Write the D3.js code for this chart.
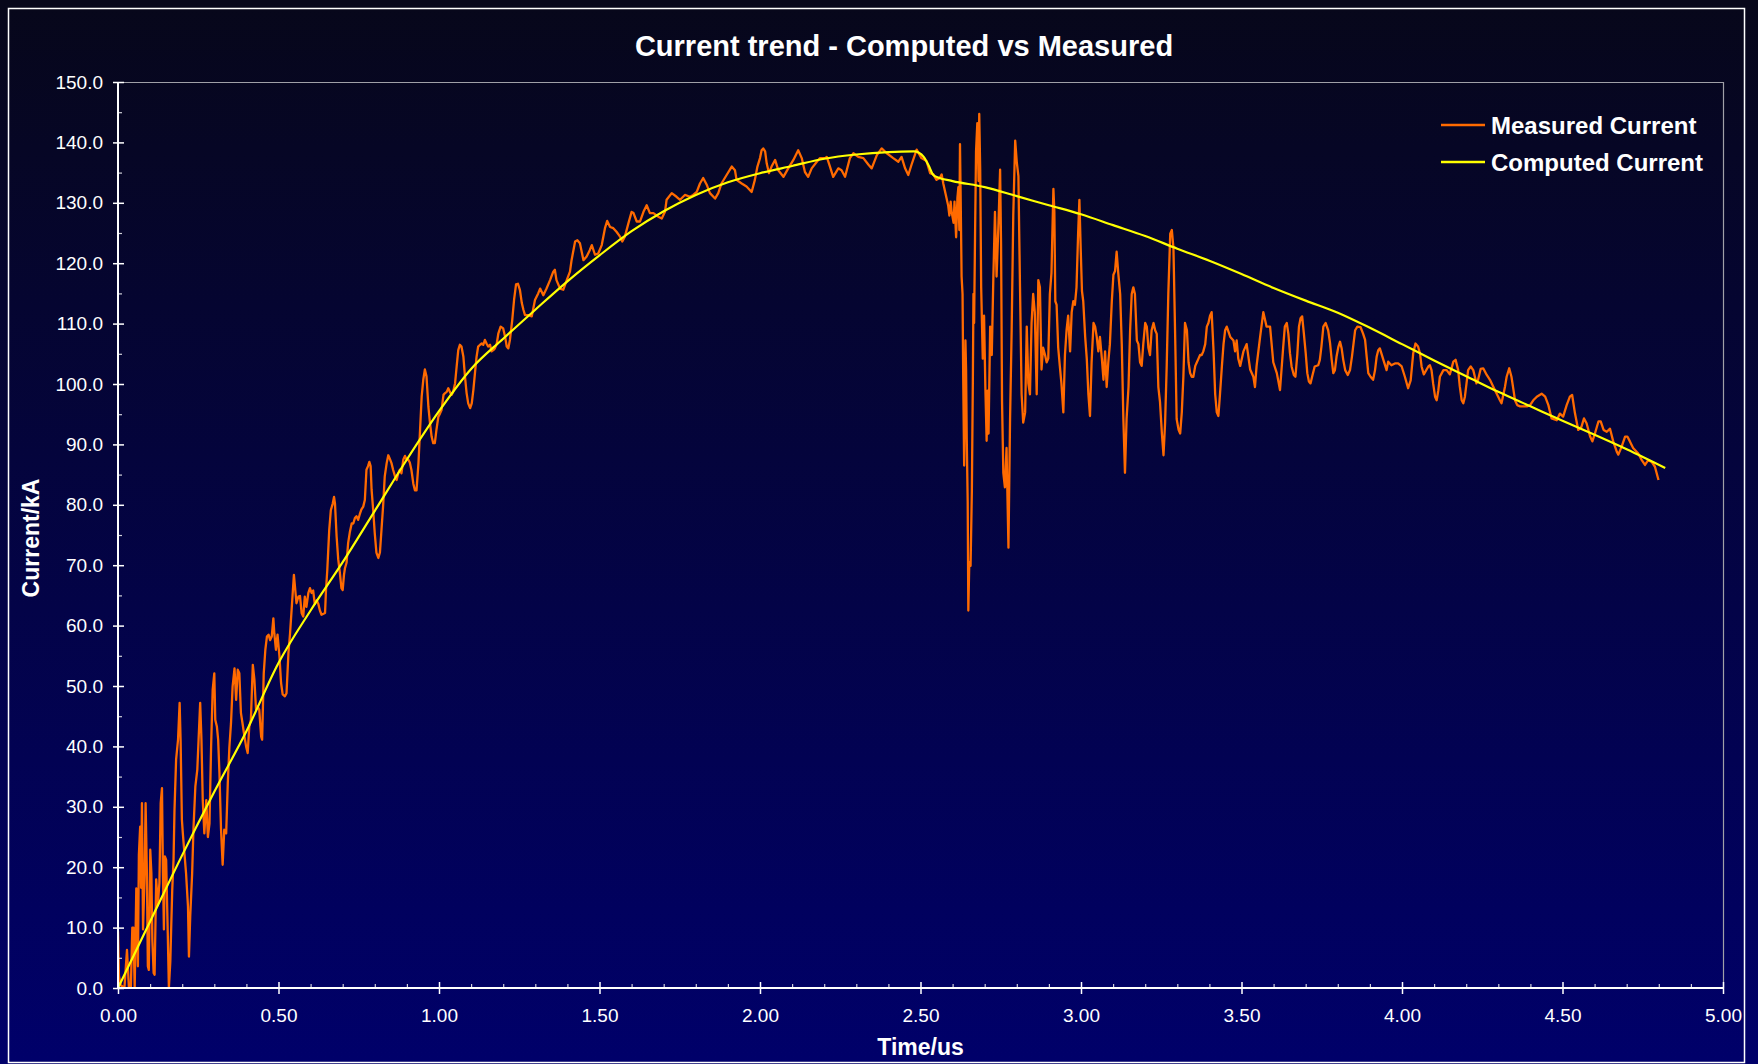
<!DOCTYPE html>
<html>
<head>
<meta charset="utf-8">
<title>Current trend - Computed vs Measured</title>
<script src="https://cdn.jsdelivr.net/npm/d3@7"></script>
<style>
  body { margin: 0; background: #05051a; overflow: hidden; }
  text { font-family: "Liberation Sans", Arial, sans-serif; fill: #ffffff; }
</style>
</head>
<body>
<div id="chart"></div>
<script>
// measured current, [time us, current kA]
var measuredPoints = [
  [0,9.4],[0.003,2],[0.008,0.5],[0.02,0],[0.028,6.3],[0.034,0],[0.040,0],[0.0446,10],[0.048,10],[0.052,0],
  [0.057,16.5],[0.062,3.6],[0.065,22],[0.069,26.7],[0.072,16.6],[0.0746,30.6],[0.078,9.7],[0.083,19],[0.086,30.6],[0.090,19],
  [0.093,3.6],[0.096,3],[0.1005,22.9],[0.104,19],[0.107,8],[0.111,2.5],[0.114,2.2],[0.119,18],[0.124,13.7],[0.129,17.4],
  [0.133,30.6],[0.137,33.1],[0.140,19],[0.143,9.7],[0.146,21.8],[0.150,21.2],[0.155,9.1],[0.1585,0],[0.163,4.4],[0.166,10.5],
  [0.169,16.3],[0.173,21.2],[0.176,29.5],[0.181,37.8],[0.187,41.1],[0.192,47.2],[0.195,41.1],[0.199,27.9],[0.202,25.6],[0.207,22.3],
  [0.212,19],[0.218,13.5],[0.221,5.2],[0.225,11.8],[0.231,19],[0.235,26.2],[0.241,33.4],[0.247,36.1],[0.251,41.1],[0.256,47.2],
  [0.260,41.1],[0.264,31.1],[0.269,25.6],[0.275,31.1],[0.280,25],[0.285,27.2],[0.290,39.9],[0.295,49.4],[0.300,52.1],[0.303,44.4],
  [0.308,43.3],[0.312,41.1],[0.316,35.6],[0.321,26.2],[0.326,20.4],[0.331,26.2],[0.337,25.6],[0.342,33.9],[0.347,39.9],[0.352,43.8],
  [0.357,49.9],[0.363,52.9],[0.368,47.7],[0.373,52.7],[0.378,52.1],[0.383,45.5],[0.388,43.8],[0.394,41.6],[0.399,40],[0.404,38.9],
  [0.409,43.3],[0.414,44.4],[0.420,53.5],[0.425,51],[0.430,46.1],[0.435,46.6],[0.440,46.1],[0.446,41.6],[0.449,41.1],[0.454,52.1],
  [0.459,56],[0.464,58.2],[0.469,58.5],[0.474,57.6],[0.479,58.2],[0.484,61.2],[0.487,58.7],[0.492,56],[0.497,58.5],[0.503,54.9],
  [0.508,50.5],[0.513,48.6],[0.520,48.3],[0.525,48.8],[0.531,55.5],[0.536,58.7],[0.548,68.4],[0.556,63.7],[0.562,64.8],[0.567,64.9],
  [0.572,62.1],[0.577,61.5],[0.582,64.8],[0.587,63.1],[0.593,65.4],[0.598,66.2],[0.603,65.4],[0.608,65.8],[0.613,63.6],[0.619,64.2],
  [0.624,63.6],[0.629,62.5],[0.634,61.8],[0.645,62.1],[0.648,65.9],[0.652,69.2],[0.658,75.8],[0.663,79.1],[0.669,80.2],[0.673,81.3],
  [0.676,80.2],[0.681,74.8],[0.686,71],[0.691,68.8],[0.696,66.2],[0.700,65.9],[0.704,68.4],[0.707,69.5],[0.712,70.4],[0.717,73.7],
  [0.722,75.4],[0.728,76.9],[0.733,76.9],[0.738,77.8],[0.743,78.1],[0.748,77.5],[0.753,78.4],[0.758,79.2],[0.764,79.7],[0.769,80.8],
  [0.774,85.8],[0.779,86.4],[0.783,87.1],[0.787,86.4],[0.790,82.5],[0.795,79.1],[0.800,75.2],[0.805,72.1],[0.811,71.2],[0.816,72.1],
  [0.821,76],[0.826,79.9],[0.831,84.7],[0.837,86.9],[0.842,88.2],[0.847,87.6],[0.852,86.9],[0.857,85.8],[0.863,84.7],[0.868,84.1],
  [0.873,85.2],[0.878,85.8],[0.883,85.2],[0.889,87.5],[0.894,88.1],[0.899,87.5],[0.904,87.5],[0.909,87],[0.914,85.8],[0.920,83.5],
  [0.925,82.4],[0.930,82.4],[0.936,86.9],[0.941,92.4],[0.946,97.9],[0.951,100.7],[0.956,102.4],[0.961,101.3],[0.967,96.2],[0.972,93.5],
  [0.977,91.3],[0.982,90.2],[0.987,90.2],[0.992,92.4],[0.998,94.6],[1.003,95.1],[1.008,95.7],[1.014,98.2],[1.019,98.5],[1.024,98.7],
  [1.029,99.3],[1.034,98.7],[1.039,98.2],[1.044,98.7],[1.050,100.1],[1.055,102.9],[1.060,105.6],[1.065,106.5],[1.070,106.2],[1.076,104.5],
  [1.081,101.2],[1.086,98.5],[1.091,96.8],[1.097,96],[1.102,96.8],[1.107,99],[1.112,101.8],[1.117,104.5],[1.122,106.2],[1.128,106.5],
  [1.133,106.7],[1.138,106.5],[1.143,107.3],[1.148,106.7],[1.153,106.2],[1.159,106.5],[1.164,105.4],[1.169,105.6],[1.174,105.9],[1.180,106.7],
  [1.185,108.4],[1.192,109.5],[1.200,109.2],[1.206,107.8],[1.211,106.2],[1.216,105.9],[1.221,107.3],[1.228,110.5],[1.234,114],[1.240,116.5],
  [1.246,116.6],[1.252,115.6],[1.258,113.4],[1.263,112.3],[1.268,111.4],[1.278,111.4],[1.289,111.2],[1.299,113.9],[1.309,115],[1.315,115.8],
  [1.325,114.7],[1.335,115.8],[1.346,117.2],[1.356,118.6],[1.361,118.9],[1.366,117.2],[1.377,115.8],[1.387,115.6],[1.398,117.2],[1.408,118.6],
  [1.413,120.5],[1.424,123.6],[1.431,123.8],[1.439,123.3],[1.450,120.5],[1.460,121.1],[1.470,122.2],[1.476,123],[1.486,121.4],[1.496,121.6],
  [1.507,123],[1.517,125.8],[1.524,127],[1.533,126],[1.543,125.8],[1.553,125.2],[1.564,124.4],[1.571,123.6],[1.579,124.4],[1.590,126.6],
  [1.600,128.5],[1.606,128.3],[1.616,126.9],[1.626,126.9],[1.637,128.5],[1.647,129.6],[1.657,128.3],[1.668,128.3],[1.683,127.7],[1.694,127.4],
  [1.704,128.5],[1.709,130.5],[1.725,131.6],[1.740,131],[1.751,130.5],[1.766,131.3],[1.782,131],[1.792,131.3],[1.803,131.8],[1.813,133.2],
  [1.823,134.1],[1.834,133],[1.844,131.6],[1.860,130.7],[1.870,131.6],[1.880,133.2],[1.896,134.6],[1.912,136],[1.922,135.4],[1.927,133.8],
  [1.943,133.2],[1.958,132.7],[1.974,131.8],[1.984,133.8],[1.992,136],[2.000,137.4],[2.005,138.7],[2.010,139],[2.016,138.5],[2.021,136.5],
  [2.028,134.9],[2.036,136],[2.047,137.1],[2.057,135.4],[2.073,134.3],[2.088,135.7],[2.104,137.1],[2.119,138.7],[2.130,137.4],[2.140,135.1],
  [2.150,134.3],[2.161,135.7],[2.177,136.8],[2.187,137.4],[2.203,137.4],[2.208,137.6],[2.218,136],[2.228,134.3],[2.244,135.7],[2.254,135.4],
  [2.265,134.3],[2.280,137.4],[2.291,138.2],[2.306,137.6],[2.322,137.4],[2.338,136.3],[2.348,135.7],[2.364,137.9],[2.379,139],[2.395,138.2],
  [2.415,137.4],[2.431,136.8],[2.441,137.6],[2.452,135.7],[2.462,134.6],[2.472,136.3],[2.488,138.8],[2.503,137.4],[2.519,136.9],[2.530,134.9],
  [2.540,134.7],[2.550,133.8],[2.560,134.1],[2.566,134.7],[2.571,133.2],[2.576,132],[2.581,130.8],[2.586,129.6],[2.590,127.9],[2.594,130.2],
  [2.597,128.5],[2.603,126.7],[2.606,130.2],[2.611,124.3],[2.615,130.8],[2.618,132.6],[2.621,125.5],[2.623,139.7],[2.625,131.4],[2.628,117.8],
  [2.631,114.9],[2.633,101.3],[2.636,86.5],[2.640,107.2],[2.642,102.4],[2.644,91.2],[2.647,80.6],[2.649,62.5],[2.652,70.5],[2.656,69.9],
  [2.660,82.3],[2.663,100.1],[2.665,114.9],[2.667,110.1],[2.670,124.9],[2.673,138.5],[2.677,143.2],[2.681,133.6],[2.683,144.7],[2.686,135.5],
  [2.689,116],[2.694,104.2],[2.698,111.3],[2.702,99.5],[2.706,90.6],[2.709,98.9],[2.712,91.8],[2.717,109.5],[2.722,104.8],[2.727,117.8],
  [2.732,128.5],[2.737,117.8],[2.743,126.7],[2.748,135.5],[2.751,123.1],[2.754,97.1],[2.758,85.3],[2.763,82.9],[2.768,89.4],[2.774,72.9],
  [2.779,94.2],[2.784,108.9],[2.789,127.9],[2.795,140.3],[2.800,136.7],[2.805,134.4],[2.810,116],[2.815,98.3],[2.820,93.6],[2.826,95.3],
  [2.831,109.5],[2.836,100.1],[2.841,98.3],[2.846,110.1],[2.851,114.9],[2.856,111.9],[2.862,98.3],[2.867,117.2],[2.872,116],[2.877,102.4],
  [2.882,106],[2.888,104.8],[2.893,103.6],[2.898,104.2],[2.903,114.9],[2.908,118.4],[2.914,132.3],[2.917,128.5],[2.920,113.7],[2.924,113.1],
  [2.929,106],[2.934,103],[2.939,100.1],[2.945,95.3],[2.950,104.8],[2.955,108.9],[2.960,111.3],[2.966,105.4],[2.971,111.9],[2.976,113.7],
  [2.981,113.1],[2.986,116],[2.991,124.9],[2.995,130.5],[2.999,122.5],[3.003,115.4],[3.007,113.7],[3.013,107.8],[3.018,104.2],[3.023,98.3],
  [3.028,94.7],[3.033,103.6],[3.039,110.1],[3.044,109.5],[3.049,107.8],[3.054,105.4],[3.059,107.8],[3.065,104.2],[3.070,100.7],[3.075,105.4],
  [3.080,99.5],[3.085,103.6],[3.090,106.6],[3.096,113.7],[3.101,118.1],[3.106,118.7],[3.111,121.9],[3.116,118.4],[3.122,114.9],[3.127,106.6],
  [3.132,94.2],[3.137,85.3],[3.142,94.2],[3.148,99.5],[3.153,108.9],[3.158,114.9],[3.163,116],[3.168,114.9],[3.174,107.2],[3.179,106.6],
  [3.184,103.6],[3.189,103],[3.194,106.6],[3.200,110.1],[3.205,109.5],[3.210,106],[3.215,104.8],[3.220,108.9],[3.226,110.1],[3.231,108.9],
  [3.236,108.3],[3.241,99.5],[3.246,97.1],[3.252,91.8],[3.257,88.2],[3.262,93.6],[3.267,103],[3.272,114.9],[3.278,124.9],[3.283,125.5],
  [3.288,122.5],[3.293,108.9],[3.298,94.2],[3.304,92.4],[3.309,91.8],[3.314,95.3],[3.319,101.3],[3.324,110.1],[3.330,108.9],[3.335,103.6],
  [3.340,101.8],[3.345,101.2],[3.350,101.2],[3.356,103],[3.361,103.6],[3.366,104.2],[3.371,104.8],[3.376,104.8],[3.381,105.4],[3.387,106.6],
  [3.392,109.5],[3.397,110.1],[3.402,111.3],[3.407,111.9],[3.413,105.4],[3.418,98.3],[3.423,95.3],[3.428,94.7],[3.433,98.3],[3.439,103],
  [3.444,106.6],[3.449,108.9],[3.454,109.5],[3.465,107.8],[3.475,107.2],[3.480,105.4],[3.485,107.2],[3.490,104.2],[3.496,103],[3.506,105.4],
  [3.516,106.6],[3.527,102.4],[3.537,101.2],[3.542,99.5],[3.547,103],[3.558,107.8],[3.568,111.9],[3.578,109.5],[3.589,109.5],[3.599,103.6],
  [3.610,101.8],[3.620,99],[3.630,106.2],[3.635,109.5],[3.641,110.1],[3.646,108.3],[3.651,105.1],[3.656,102.9],[3.663,101.5],[3.668,101.2],
  [3.674,105],[3.679,109.5],[3.684,110.9],[3.689,111.2],[3.694,108.5],[3.700,105.1],[3.705,101.8],[3.710,100.4],[3.715,100.1],[3.720,101.2],
  [3.728,102.9],[3.739,103.1],[3.744,104],[3.749,106.2],[3.755,109.5],[3.762,110.1],[3.770,108.9],[3.776,106.7],[3.781,104],[3.786,101.8],
  [3.791,102.3],[3.796,104.5],[3.802,106.2],[3.807,107],[3.812,105.9],[3.817,104],[3.823,102.3],[3.831,101.5],[3.838,102.3],[3.844,104.5],
  [3.849,106.7],[3.854,108.9],[3.861,109.5],[3.871,109.4],[3.879,108.3],[3.885,107.3],[3.890,104.5],[3.895,101.8],[3.902,101.2],[3.910,100.7],
  [3.916,102.3],[3.921,104.5],[3.926,105.6],[3.931,105.9],[3.942,104],[3.952,102.3],[3.957,103.7],[3.967,103.1],[3.978,103.4],[3.988,103.4],
  [3.999,102.9],[4.009,101.2],[4.019,99.3],[4.027,100.6],[4.035,105.1],[4.042,106.7],[4.050,106.2],[4.056,105.1],[4.061,102.9],[4.068,101.6],
  [4.082,102.9],[4.087,103.1],[4.092,102.3],[4.097,100.1],[4.103,97.9],[4.108,97.3],[4.113,98.9],[4.118,101.2],[4.129,102.3],[4.139,102.3],
  [4.149,101.6],[4.160,103.7],[4.167,104],[4.175,102.3],[4.180,99.6],[4.186,97.3],[4.191,96.8],[4.196,97.9],[4.201,100.1],[4.206,102.3],
  [4.214,102.9],[4.222,102.3],[4.227,101.2],[4.232,100.1],[4.237,100.7],[4.245,102.5],[4.253,102.6],[4.264,101.5],[4.274,100.7],[4.284,99.6],
  [4.295,98.4],[4.305,97.3],[4.310,96.8],[4.316,98.3],[4.321,99.6],[4.326,101.2],[4.334,102.6],[4.341,101.2],[4.347,99.1],[4.352,97.3],
  [4.359,96.5],[4.368,96.3],[4.378,96.3],[4.389,96.3],[4.399,96.5],[4.409,97.3],[4.420,97.9],[4.435,98.4],[4.446,97.9],[4.456,96.5],
  [4.466,94.3],[4.482,94],[4.492,95.1],[4.502,94.6],[4.513,96.5],[4.523,97.9],[4.530,98.2],[4.539,95.1],[4.549,92.4],[4.559,92.9],
  [4.567,94.3],[4.575,93.5],[4.586,91.3],[4.593,90.5],[4.601,91.8],[4.612,93.8],[4.619,93.8],[4.628,92.4],[4.638,92.1],[4.648,92.6],
  [4.658,90.5],[4.669,88.8],[4.674,88.3],[4.684,89.6],[4.695,91.3],[4.702,91.3],[4.710,90.5],[4.720,89.4],[4.736,88.5],[4.747,87.4],
  [4.757,86.6],[4.767,87.4],[4.778,87.1],[4.788,86.3],[4.799,84.1]
];

// computed current, [time us, current kA]
var computedPoints = [
  [0,0],[0.1,11],[0.2,22],[0.3,32.5],[0.4,42.5],[0.5,53.8],[0.6,62.5],[0.7,70.5],[0.8,79],[0.9,87.5],
  [1.0,95.5],[1.1,102.5],[1.2,107.5],[1.3,112.3],[1.4,117],[1.5,121.3],[1.6,125.3],[1.7,128.6],[1.8,131.3],[1.9,133.4],
  [2.0,134.9],[2.1,136.1],[2.2,137.3],[2.3,138],[2.4,138.4],[2.48,138.5],[2.495,138.3],[2.51,137.6],[2.525,136.2],[2.54,134.6],
  [2.555,134.2],[2.6,133.6],[2.7,132.6],[2.8,131.1],[2.9,129.6],[3.0,128.1],[3.1,126.3],[3.2,124.5],[3.3,122.4],[3.4,120.4],
  [3.5,118.2],[3.6,115.9],[3.7,113.8],[3.8,111.8],[3.9,109.3],[4.0,106.6],[4.1,103.9],[4.2,101.3],[4.3,98.7],[4.4,96.3],
  [4.5,93.9],[4.6,91.6],[4.7,89.2],[4.82,86.1]
];

var yMajorTicks = d3.range(0, 151, 10);
var yMinorTicks = d3.range(5, 150, 10);
var xMajorTicks = [0, 0.5, 1, 1.5, 2, 2.5, 3, 3.5, 4, 4.5, 5];
var xMinorTicks = d3.range(1, 50).map(function (i) { return i / 10; }).filter(function (d) { return Math.round(d * 10) % 5 !== 0; });
var legendLabels = ['Measured Current', 'Computed Current'];
var seriesColors = ['#ff6a00', '#ffff00'];

var W = 1758, H = 1064;
var margin = { top: 82, right: 35, bottom: 76, left: 118 };
var width = W - margin.left - margin.right;
var height = H - margin.top - margin.bottom;

var svg = d3.select('#chart').append('svg')
    .attr('width', W)
    .attr('height', H);

var defs = svg.append('defs');
var grad = defs.append('linearGradient')
    .attr('id', 'bg')
    .attr('x1', 0).attr('y1', 0).attr('x2', 0).attr('y2', 1);
grad.append('stop').attr('offset', '0%').attr('stop-color', '#07071a');
grad.append('stop').attr('offset', '100%').attr('stop-color', '#00006a');

defs.append('clipPath').attr('id', 'plot-clip')
    .append('rect')
    .attr('width', width)
    .attr('height', height + 2)
    .attr('y', -1);

svg.append('rect')
    .attr('width', W)
    .attr('height', H)
    .attr('fill', 'url(#bg)');

// chart area border
svg.append('rect')
    .attr('x', 8.5).attr('y', 8.5)
    .attr('width', 1736).attr('height', 1054)
    .attr('fill', 'none')
    .attr('stroke', '#ffffff')
    .attr('stroke-width', 1.5);

var x = d3.scaleLinear().domain([0, 5]).range([0, width]);
var y = d3.scaleLinear().domain([0, 150]).range([height, 0]);

var g = svg.append('g')
    .attr('transform', 'translate(' + margin.left + ',' + margin.top + ')');

// plot border top and right
g.append('path')
    .attr('d', 'M0,0.5H' + (width + 0.5) + 'V' + height)
    .attr('fill', 'none')
    .attr('stroke', '#a0a0a8')
    .attr('stroke-width', 1.2);

var line = d3.line()
    .x(function (d) { return x(d[0]); })
    .y(function (d) { return y(d[1]); });

var lines = g.append('g').attr('clip-path', 'url(#plot-clip)');

lines.append('path')
    .datum(measuredPoints)
    .attr('fill', 'none')
    .attr('stroke', seriesColors[0])
    .attr('stroke-width', 2.3)
    .attr('stroke-linejoin', 'round')
    .attr('d', line);

lines.append('path')
    .datum(computedPoints)
    .attr('fill', 'none')
    .attr('stroke', seriesColors[1])
    .attr('stroke-width', 2.2)
    .attr('d', line.curve(d3.curveMonotoneX));

// y axis: labels + outward ticks, inward ticks, minor ticks
g.append('g')
    .call(d3.axisLeft(y).tickValues(yMajorTicks).tickFormat(d3.format('.1f')).tickSize(5).tickPadding(10));
g.append('g')
    .call(d3.axisRight(y).tickValues(yMajorTicks).tickFormat('').tickSize(6));
g.append('g').attr('class', 'minor')
    .call(d3.axisRight(y).tickValues(yMinorTicks).tickFormat('').tickSize(4));

// x axis
g.append('g')
    .attr('transform', 'translate(0,' + height + ')')
    .call(d3.axisBottom(x).tickValues(xMajorTicks).tickFormat(d3.format('.2f')).tickSize(6).tickPadding(15));
g.append('g')
    .attr('transform', 'translate(0,' + height + ')')
    .call(d3.axisTop(x).tickValues(xMajorTicks).tickFormat('').tickSize(6));
g.append('g').attr('class', 'minor')
    .attr('transform', 'translate(0,' + height + ')')
    .call(d3.axisTop(x).tickValues(xMinorTicks).tickFormat('').tickSize(4));

g.selectAll('.domain').remove();
g.selectAll('.tick line').attr('stroke', '#ffffff').attr('stroke-width', 1.5);
g.selectAll('.minor .tick line').attr('stroke', '#d0d0d8').attr('stroke-width', 1.2);
g.selectAll('.tick text')
    .attr('fill', '#ffffff')
    .style('font-size', '19px')
    .style('font-family', '"Liberation Sans", Arial, sans-serif');

// axis lines
g.append('line')
    .attr('x1', 0).attr('x2', 0).attr('y1', 0).attr('y2', height)
    .attr('stroke', '#ffffff').attr('stroke-width', 2);
g.append('line')
    .attr('x1', 0).attr('x2', width).attr('y1', height).attr('y2', height)
    .attr('stroke', '#ffffff').attr('stroke-width', 2);

// legend
var legend = g.append('g')
    .attr('transform', 'translate(' + (1441 - margin.left) + ',' + (125 - margin.top) + ')');
legendLabels.forEach(function (label, i) {
    var row = legend.append('g').attr('transform', 'translate(0,' + (i * 37) + ')');
    row.append('line')
        .attr('x1', 0).attr('x2', 44)
        .attr('stroke', seriesColors[i])
        .attr('stroke-width', 2.5);
    row.append('text')
        .attr('x', 50)
        .attr('dy', '0.36em')
        .style('font-size', '24px')
        .style('font-weight', 'bold')
        .text(label);
});

// titles
svg.append('text')
    .attr('x', 904).attr('y', 56)
    .attr('text-anchor', 'middle')
    .style('font-size', '29px')
    .style('font-weight', 'bold')
    .text('Current trend - Computed vs Measured');

svg.append('text')
    .attr('x', margin.left + width / 2).attr('y', 1055)
    .attr('text-anchor', 'middle')
    .style('font-size', '23px')
    .style('font-weight', 'bold')
    .text('Time/us');

svg.append('text')
    .attr('transform', 'translate(39,538) rotate(-90)')
    .attr('text-anchor', 'middle')
    .style('font-size', '23px')
    .style('font-weight', 'bold')
    .text('Current/kA');
</script>
</body>
</html>
